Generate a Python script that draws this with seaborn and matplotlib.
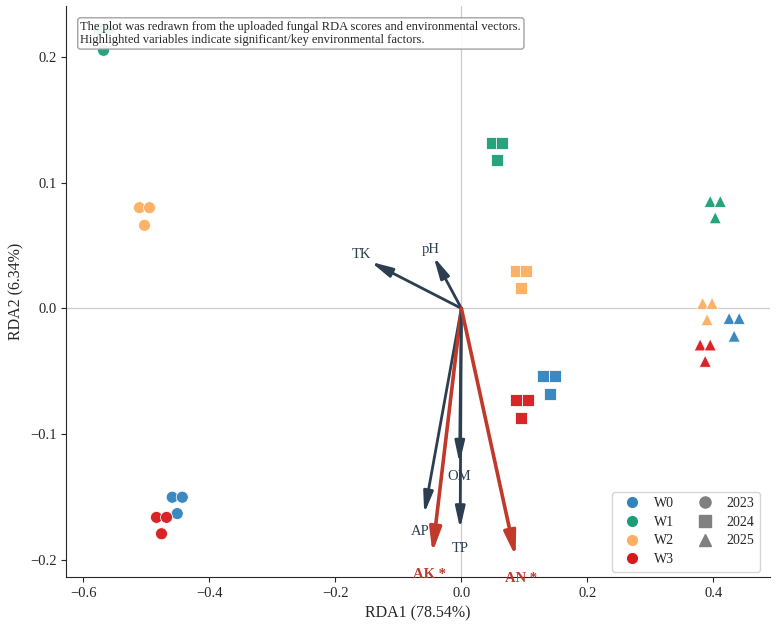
import pandas as pd
import seaborn as sns
import matplotlib.pyplot as plt
from matplotlib.lines import Line2D

# Sample scores (RDA1, RDA2), three replicates per group/year
groups = ['W0'] * 9 + ['W1'] * 9 + ['W2'] * 9 + ['W3'] * 9
years = (['2023'] * 3 + ['2024'] * 3 + ['2025'] * 3) * 4
rda1 = [
    -0.459, -0.443, -0.451, 0.130, 0.148, 0.140, 0.425, 0.441, 0.433,      # W0
    -0.575, -0.560, -0.568, 0.049, 0.065, 0.057, 0.395, 0.411, 0.403,      # W1
    -0.511, -0.495, -0.503, 0.086, 0.103, 0.095, 0.383, 0.398, 0.390,      # W2
    -0.484, -0.468, -0.476, 0.087, 0.105, 0.095, 0.379, 0.395, 0.387,      # W3
]
rda2 = [
    -0.150, -0.150, -0.163, -0.054, -0.054, -0.068, -0.008, -0.008, -0.022,
    0.222, 0.222, 0.205, 0.131, 0.131, 0.118, 0.085, 0.085, 0.072,
    0.080, 0.080, 0.066, 0.030, 0.030, 0.016, 0.004, 0.004, -0.009,
    -0.166, -0.166, -0.179, -0.073, -0.073, -0.087, -0.029, -0.029, -0.042,
]

# Environmental vectors
env_names = ['TK', 'pH', 'AP', 'AK', 'OM', 'TP', 'AN']
env_x = [-0.144, -0.044, -0.059, -0.046, -0.003, -0.002, 0.086]
env_y = [0.037, 0.041, -0.163, -0.194, -0.123, -0.175, -0.197]
key_vars = ['AK', 'AN']

df = pd.DataFrame({'RDA1': rda1, 'RDA2': rda2, 'group': groups, 'year': years})

palette = {'W0': '#3182bd', 'W1': '#1b9e77', 'W2': '#fdae61', 'W3': '#d7191c'}
markers = {'2023': 'o', '2024': 's', '2025': '^'}

sns.set_style('ticks')
plt.rcParams['font.family'] = ['Liberation Serif', 'DejaVu Serif']

fig, ax = plt.subplots(figsize=(7.81, 6.26), dpi=100)
fig.subplots_adjust(left=0.085, right=0.986, bottom=0.078, top=0.99)

ax.axhline(0, color='#cccccc', lw=0.9, zorder=0)
ax.axvline(0, color='#cccccc', lw=0.9, zorder=0)

sns.scatterplot(data=df, x='RDA1', y='RDA2', hue='group', style='year',
                palette=palette, markers=markers, s=75, edgecolor='white',
                linewidth=0.6, alpha=0.95, legend=False, ax=ax, zorder=3)

for name, vx, vy in zip(env_names, env_x, env_y):
    if name in key_vars:
        col, lw, label, weight = '#c0392b', 2.6, name + ' *', 'bold'
        astyle = '-|>,head_length=0.9,head_width=0.22'
    else:
        col, lw, label, weight = '#2c3e50', 2.0, name, 'normal'
        astyle = '-|>,head_length=0.8,head_width=0.18'
    ax.annotate('', xy=(vx, vy), xytext=(0, 0),
                arrowprops=dict(arrowstyle=astyle, color=col, lw=lw,
                                mutation_scale=16, shrinkA=0, shrinkB=0), zorder=4)
    ax.text(vx * 1.1, vy * 1.1 + 0.002, label, color=col, fontsize=10.5,
            fontweight=weight, ha='center', va='center', zorder=5)

ax.set_xlim(-0.627, 0.49)
ax.set_ylim(-0.2135, 0.24)
ax.set_xticks([-0.6, -0.4, -0.2, 0.0, 0.2, 0.4])
ax.set_yticks([-0.2, -0.1, 0.0, 0.1, 0.2])
ax.tick_params(labelsize=10.5)
ax.set_xlabel('RDA1 (78.54%)', fontsize=11.5)
ax.set_ylabel('RDA2 (6.34%)', fontsize=11.5)
sns.despine(ax=ax)

ax.text(0.02, 0.975,
        'The plot was redrawn from the uploaded fungal RDA scores and environmental vectors.\n'
        'Highlighted variables indicate significant/key environmental factors.',
        transform=ax.transAxes, ha='left', va='top', fontsize=9, linespacing=1.2,
        bbox=dict(boxstyle='round,pad=0.22', facecolor='white', edgecolor='#999999',
                  alpha=0.9), zorder=6)

handles = [Line2D([], [], marker='o', ls='', color=palette[g], markersize=7, label=g)
           for g in palette]
handles += [Line2D([], [], marker=markers[y], ls='', color='#808080', markersize=8, label=y)
            for y in markers]
ax.legend(handles=handles, ncol=2, loc='lower right', fontsize=10, frameon=True,
          columnspacing=1.2, handletextpad=0.6, labelspacing=0.4,
          bbox_to_anchor=(0.99, 0.005), borderaxespad=0.2)

plt.savefig('out.png', dpi=100)
